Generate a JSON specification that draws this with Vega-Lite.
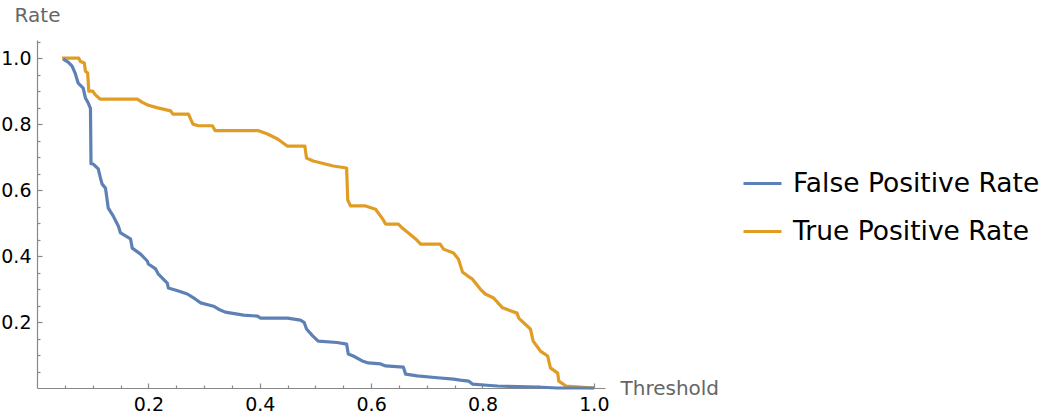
{
  "$schema": "https://vega.github.io/schema/vega-lite/v6.json",
  "width": 568,
  "height": 348,
  "autosize": {"type": "none"},
  "padding": {"left": 37, "top": 40, "right": 443, "bottom": 32},
  "background": "white",
  "config": {"view": {"stroke": null}, "font": "DejaVu Sans"},
  "data": {"values": [
    {"s":"True Positive Rate","x":0.045,"y":1.0},
    {"s":"True Positive Rate","x":0.075,"y":1.0},
    {"s":"True Positive Rate","x":0.078,"y":0.99},
    {"s":"True Positive Rate","x":0.085,"y":0.985},
    {"s":"True Positive Rate","x":0.087,"y":0.96},
    {"s":"True Positive Rate","x":0.091,"y":0.955},
    {"s":"True Positive Rate","x":0.093,"y":0.90},
    {"s":"True Positive Rate","x":0.1,"y":0.9},
    {"s":"True Positive Rate","x":0.104,"y":0.89},
    {"s":"True Positive Rate","x":0.113,"y":0.876},
    {"s":"True Positive Rate","x":0.18,"y":0.876},
    {"s":"True Positive Rate","x":0.19,"y":0.865},
    {"s":"True Positive Rate","x":0.2,"y":0.857},
    {"s":"True Positive Rate","x":0.215,"y":0.85},
    {"s":"True Positive Rate","x":0.24,"y":0.84},
    {"s":"True Positive Rate","x":0.244,"y":0.83},
    {"s":"True Positive Rate","x":0.272,"y":0.83},
    {"s":"True Positive Rate","x":0.28,"y":0.8},
    {"s":"True Positive Rate","x":0.29,"y":0.795},
    {"s":"True Positive Rate","x":0.315,"y":0.795},
    {"s":"True Positive Rate","x":0.32,"y":0.78},
    {"s":"True Positive Rate","x":0.398,"y":0.78},
    {"s":"True Positive Rate","x":0.414,"y":0.77},
    {"s":"True Positive Rate","x":0.432,"y":0.755},
    {"s":"True Positive Rate","x":0.45,"y":0.733},
    {"s":"True Positive Rate","x":0.481,"y":0.733},
    {"s":"True Positive Rate","x":0.484,"y":0.697},
    {"s":"True Positive Rate","x":0.496,"y":0.688},
    {"s":"True Positive Rate","x":0.532,"y":0.673},
    {"s":"True Positive Rate","x":0.556,"y":0.667},
    {"s":"True Positive Rate","x":0.558,"y":0.57},
    {"s":"True Positive Rate","x":0.563,"y":0.552},
    {"s":"True Positive Rate","x":0.59,"y":0.552},
    {"s":"True Positive Rate","x":0.608,"y":0.542},
    {"s":"True Positive Rate","x":0.621,"y":0.512},
    {"s":"True Positive Rate","x":0.626,"y":0.497},
    {"s":"True Positive Rate","x":0.649,"y":0.497},
    {"s":"True Positive Rate","x":0.656,"y":0.485},
    {"s":"True Positive Rate","x":0.667,"y":0.47},
    {"s":"True Positive Rate","x":0.68,"y":0.452},
    {"s":"True Positive Rate","x":0.689,"y":0.436},
    {"s":"True Positive Rate","x":0.724,"y":0.436},
    {"s":"True Positive Rate","x":0.73,"y":0.421},
    {"s":"True Positive Rate","x":0.748,"y":0.409},
    {"s":"True Positive Rate","x":0.757,"y":0.39},
    {"s":"True Positive Rate","x":0.764,"y":0.352},
    {"s":"True Positive Rate","x":0.773,"y":0.34},
    {"s":"True Positive Rate","x":0.782,"y":0.33},
    {"s":"True Positive Rate","x":0.796,"y":0.3},
    {"s":"True Positive Rate","x":0.805,"y":0.285},
    {"s":"True Positive Rate","x":0.82,"y":0.273},
    {"s":"True Positive Rate","x":0.836,"y":0.243},
    {"s":"True Positive Rate","x":0.862,"y":0.227},
    {"s":"True Positive Rate","x":0.865,"y":0.212},
    {"s":"True Positive Rate","x":0.886,"y":0.179},
    {"s":"True Positive Rate","x":0.891,"y":0.142},
    {"s":"True Positive Rate","x":0.904,"y":0.112},
    {"s":"True Positive Rate","x":0.917,"y":0.097},
    {"s":"True Positive Rate","x":0.922,"y":0.061},
    {"s":"True Positive Rate","x":0.935,"y":0.045},
    {"s":"True Positive Rate","x":0.937,"y":0.021},
    {"s":"True Positive Rate","x":0.95,"y":0.006},
    {"s":"True Positive Rate","x":1.0,"y":0.0},
    {"s":"False Positive Rate","x":0.047,"y":0.997},
    {"s":"False Positive Rate","x":0.056,"y":0.988},
    {"s":"False Positive Rate","x":0.063,"y":0.976},
    {"s":"False Positive Rate","x":0.069,"y":0.952},
    {"s":"False Positive Rate","x":0.074,"y":0.924},
    {"s":"False Positive Rate","x":0.083,"y":0.909},
    {"s":"False Positive Rate","x":0.087,"y":0.879},
    {"s":"False Positive Rate","x":0.092,"y":0.864},
    {"s":"False Positive Rate","x":0.096,"y":0.848},
    {"s":"False Positive Rate","x":0.097,"y":0.68},
    {"s":"False Positive Rate","x":0.101,"y":0.679},
    {"s":"False Positive Rate","x":0.11,"y":0.664},
    {"s":"False Positive Rate","x":0.114,"y":0.636},
    {"s":"False Positive Rate","x":0.117,"y":0.618},
    {"s":"False Positive Rate","x":0.123,"y":0.606},
    {"s":"False Positive Rate","x":0.128,"y":0.545},
    {"s":"False Positive Rate","x":0.137,"y":0.521},
    {"s":"False Positive Rate","x":0.146,"y":0.491},
    {"s":"False Positive Rate","x":0.15,"y":0.47},
    {"s":"False Positive Rate","x":0.168,"y":0.452},
    {"s":"False Positive Rate","x":0.171,"y":0.424},
    {"s":"False Positive Rate","x":0.186,"y":0.406},
    {"s":"False Positive Rate","x":0.198,"y":0.385},
    {"s":"False Positive Rate","x":0.2,"y":0.376},
    {"s":"False Positive Rate","x":0.213,"y":0.361},
    {"s":"False Positive Rate","x":0.218,"y":0.345},
    {"s":"False Positive Rate","x":0.234,"y":0.318},
    {"s":"False Positive Rate","x":0.236,"y":0.303},
    {"s":"False Positive Rate","x":0.254,"y":0.294},
    {"s":"False Positive Rate","x":0.27,"y":0.285},
    {"s":"False Positive Rate","x":0.284,"y":0.27},
    {"s":"False Positive Rate","x":0.294,"y":0.258},
    {"s":"False Positive Rate","x":0.317,"y":0.248},
    {"s":"False Positive Rate","x":0.326,"y":0.239},
    {"s":"False Positive Rate","x":0.338,"y":0.23},
    {"s":"False Positive Rate","x":0.371,"y":0.221},
    {"s":"False Positive Rate","x":0.396,"y":0.218},
    {"s":"False Positive Rate","x":0.401,"y":0.212},
    {"s":"False Positive Rate","x":0.45,"y":0.212},
    {"s":"False Positive Rate","x":0.473,"y":0.206},
    {"s":"False Positive Rate","x":0.48,"y":0.198},
    {"s":"False Positive Rate","x":0.484,"y":0.179},
    {"s":"False Positive Rate","x":0.495,"y":0.158},
    {"s":"False Positive Rate","x":0.505,"y":0.142},
    {"s":"False Positive Rate","x":0.539,"y":0.138},
    {"s":"False Positive Rate","x":0.556,"y":0.133},
    {"s":"False Positive Rate","x":0.559,"y":0.103},
    {"s":"False Positive Rate","x":0.568,"y":0.097},
    {"s":"False Positive Rate","x":0.584,"y":0.082},
    {"s":"False Positive Rate","x":0.595,"y":0.076},
    {"s":"False Positive Rate","x":0.617,"y":0.073},
    {"s":"False Positive Rate","x":0.626,"y":0.067},
    {"s":"False Positive Rate","x":0.658,"y":0.063},
    {"s":"False Positive Rate","x":0.662,"y":0.042},
    {"s":"False Positive Rate","x":0.683,"y":0.037},
    {"s":"False Positive Rate","x":0.719,"y":0.031},
    {"s":"False Positive Rate","x":0.748,"y":0.027},
    {"s":"False Positive Rate","x":0.76,"y":0.024},
    {"s":"False Positive Rate","x":0.775,"y":0.021},
    {"s":"False Positive Rate","x":0.782,"y":0.012},
    {"s":"False Positive Rate","x":0.802,"y":0.009},
    {"s":"False Positive Rate","x":0.827,"y":0.006},
    {"s":"False Positive Rate","x":0.898,"y":0.003},
    {"s":"False Positive Rate","x":0.934,"y":0.0},
    {"s":"False Positive Rate","x":1.0,"y":0.0}
  ]},
  "mark": {"type": "line", "strokeWidth": 3.2, "strokeJoin": "round"},
  "encoding": {
    "x": {
      "field": "x", "type": "quantitative",
      "scale": {"domain": [0, 1.02], "nice": false, "zero": false},
      "axis": {
        "title": "Threshold",
        "titleX": 583, "titleY": 0, "titleAlign": "left", "titleBaseline": "middle",
        "titleFont": "DejaVu Sans", "titleFontSize": 20, "titleFontWeight": "normal", "titleColor": "#666666",
        "values": [0.05,0.1,0.15,0.2,0.25,0.3,0.35,0.4,0.45,0.5,0.55,0.6,0.65,0.7,0.75,0.8,0.85,0.9,0.95,1.0],
        "labelExpr": "abs(datum.value*5 - round(datum.value*5)) < 0.001 ? format(datum.value, '.1f') : ''",
        "labelFontSize": 19, "labelColor": "#000000", "labelPadding": 12,
        "labelFlush": false, "labelOverlap": false,
        "domainColor": "#888888", "domainWidth": 1.2,
        "tickColor": "#888888", "tickWidth": 1.2,
        "tickSize": {"condition": {"test": "abs(datum.value*5 - round(datum.value*5)) < 0.001", "value": -5}, "value": -3},
        "grid": false
      }
    },
    "y": {
      "field": "y", "type": "quantitative",
      "scale": {"domain": [0, 1.055], "nice": false, "zero": false},
      "axis": {
        "title": "Rate",
        "titleAngle": 0, "titleX": 0, "titleY": -25, "titleAlign": "center", "titleBaseline": "middle",
        "titleFont": "DejaVu Sans", "titleFontSize": 20, "titleFontWeight": "normal", "titleColor": "#666666",
        "values": [0.05,0.1,0.15,0.2,0.25,0.3,0.35,0.4,0.45,0.5,0.55,0.6,0.65,0.7,0.75,0.8,0.85,0.9,0.95,1.0,1.05],
        "labelExpr": "abs(datum.value*5 - round(datum.value*5)) < 0.001 ? format(datum.value, '.1f') : ''",
        "labelFontSize": 19, "labelColor": "#000000", "labelPadding": 11,
        "labelFlush": false, "labelOverlap": false,
        "domainColor": "#888888", "domainWidth": 1.2,
        "tickColor": "#888888", "tickWidth": 1.2,
        "tickSize": {"condition": {"test": "abs(datum.value*5 - round(datum.value*5)) < 0.001", "value": -5}, "value": -3},
        "grid": false
      }
    },
    "color": {
      "field": "s", "type": "nominal",
      "scale": {"domain": ["False Positive Rate", "True Positive Rate"], "range": ["#5E81B5", "#E19C24"]},
      "legend": {
        "title": null, "orient": "none", "legendX": 705, "legendY": 123,
        "symbolType": "stroke", "symbolSize": 1444, "symbolStrokeWidth": 3,
        "labelFontSize": 26.5, "labelColor": "#000000", "labelOffset": 10,
        "rowPadding": 14, "padding": 0, "labelLimit": 400
      }
    }
  }
}
